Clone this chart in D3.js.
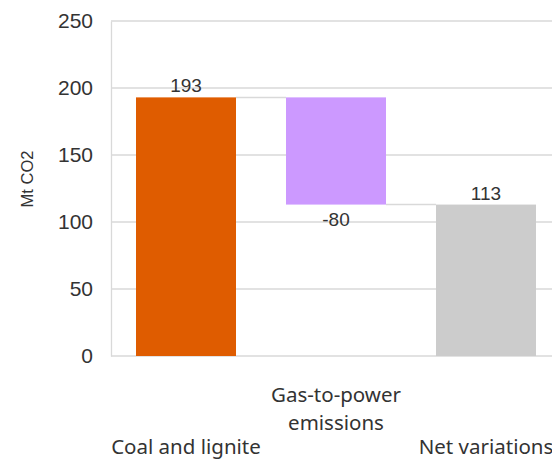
<!DOCTYPE html>
<html><head><meta charset="utf-8">
<script src="https://cdn.jsdelivr.net/npm/d3@7"></script>
<style>body{margin:0;background:#fff}svg{display:block}</style>
</head><body>
<svg id="chart" width="552" height="461"></svg>
<script>
const categories = ["Coal and lignite", "Gas-to-power emissions", "Net variations"];
const categoryLines = [["Coal and lignite"], ["Gas-to-power", "emissions"], ["Net variations"]];
const values = [193, -80, 113];
const barKinds = ["total", "delta", "total"];
const barColors = ["#DF5C00", "#CC99FF", "#CCCCCC"];
const yTicks = [0, 50, 100, 150, 200, 250];
const yLabel = "Mt CO2";

(function () {
const svg = d3.select("#chart");
const mLeft = 111, mRight = 561, mTop = 21, mBottom = 356;

const x = d3.scaleBand().domain(categories).range([mLeft, mRight]).paddingInner(1/3).paddingOuter(1/6);
const y = d3.scaleLinear().domain([0, 250]).range([mBottom, mTop]);

let running = 0;
const bars = categories.map((c, i) => {
  let y0, y1;
  if (barKinds[i] === "total") { y0 = 0; y1 = values[i]; running = values[i]; }
  else { y0 = running; y1 = running + values[i]; running = y1; }
  return {c, i, v: values[i], y0, y1, lo: Math.min(y0, y1), hi: Math.max(y0, y1), end: y1};
});

svg.append("g").selectAll("line").data(yTicks.filter(d => d > 0)).join("line")
  .attr("x1", mLeft).attr("x2", 552).attr("y1", d => y(d)).attr("y2", d => y(d))
  .attr("stroke", "#D9D9D9").attr("stroke-width", 1.3);

const yAxis = d3.axisLeft(y).tickValues(yTicks).tickSize(0).tickPadding(18);
const yg = svg.append("g").attr("transform", `translate(${mLeft},0)`).call(yAxis);
yg.select(".domain").attr("stroke", "#D9D9D9").attr("stroke-width", 1.3);
yg.selectAll("text").attr("font-family", "Liberation Sans, Arial, sans-serif")
  .attr("font-size", 21).attr("fill", "#333");

svg.append("line").attr("x1", mLeft).attr("x2", 552).attr("y1", mBottom).attr("y2", mBottom)
  .attr("stroke", "#D9D9D9").attr("stroke-width", 1.3);

for (let i = 0; i < bars.length - 1; i++) {
  const b = bars[i], n = bars[i + 1];
  svg.append("line")
    .attr("x1", x(b.c) + x.bandwidth()).attr("x2", x(n.c))
    .attr("y1", y(b.end)).attr("y2", y(b.end))
    .attr("stroke", "#D9D9D9").attr("stroke-width", 1.5);
}

svg.append("g").selectAll("rect").data(bars).join("rect")
  .attr("x", d => x(d.c)).attr("width", x.bandwidth())
  .attr("y", d => y(d.hi)).attr("height", d => y(d.lo) - y(d.hi))
  .attr("fill", d => barColors[d.i]);

svg.append("g").selectAll("text").data(bars).join("text")
  .attr("x", d => x(d.c) + x.bandwidth() / 2)
  .attr("y", d => d.v >= 0 ? y(d.hi) - 5 : y(d.lo) + 21)
  .attr("text-anchor", "middle")
  .attr("font-family", "Liberation Sans, Arial, sans-serif")
  .attr("font-size", 19).attr("fill", "#333")
  .text(d => d.v);

svg.append("text").attr("transform", "translate(33,179) rotate(-90)")
  .attr("text-anchor", "middle").attr("font-family", "Liberation Sans, Arial, sans-serif")
  .attr("font-size", 16.5).attr("fill", "#333").text(yLabel);

const cg = svg.append("g");
categories.forEach((c, i) => {
  const lines = categoryLines[i];
  const baseY = i % 2 === 1 ? 402 : 454;
  const cx = x(c) + x.bandwidth() / 2;
  const t = cg.append("text").attr("x", cx).attr("y", baseY)
    .attr("text-anchor", "middle").attr("font-family", "Noto Sans, Open Sans, sans-serif")
    .attr("font-size", 20.5).attr("fill", "#333");
  lines.forEach((l, k) => t.append("tspan").attr("x", cx).attr("dy", k === 0 ? 0 : 28).text(l));
});
})();
</script>
</body></html>
